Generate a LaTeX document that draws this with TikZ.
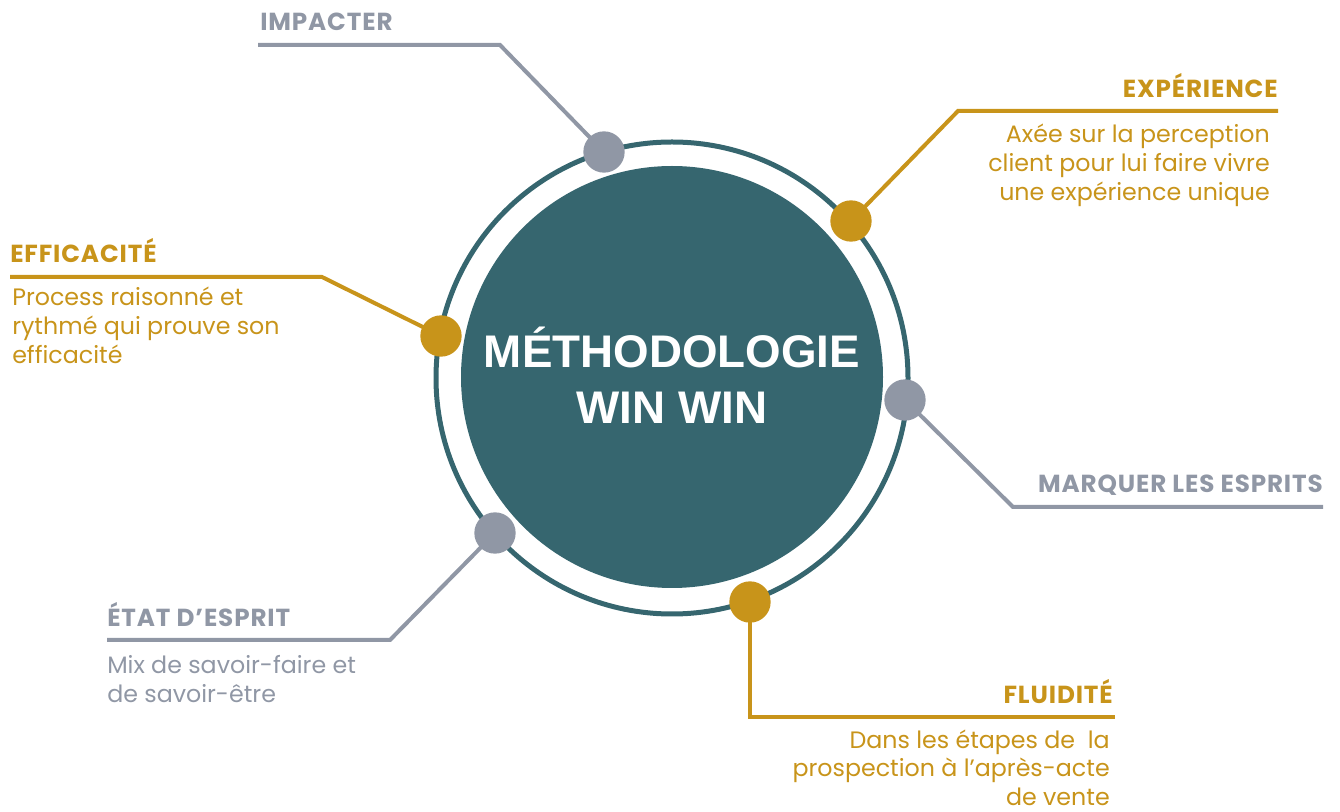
\documentclass[tikz,border=0pt]{standalone}
\usepackage{fontspec}
\setmainfont{Poppins}
\newfontfamily\hubfont{Liberation Sans}
\usepackage{tikz}
\usetikzlibrary{positioning}
\definecolor{teal}{HTML}{36666F}
\definecolor{gold}{HTML}{C8941A}
\definecolor{slate}{HTML}{9097A5}
\tikzset{
  head/.style={inner sep=0pt, font=\fontsize{18.5}{21}\selectfont\bfseries\addfontfeature{LetterSpace=3.5}},
  body/.style={inner sep=0pt, font=\fontsize{17.8}{21.75}\selectfont},
  dot/.style={circle, minimum size=31, inner sep=0pt},
  golddot/.style={dot, fill=gold},
  slatedot/.style={dot, fill=slate},
  leg/.style={line width=3pt, line join=miter}
}
\begin{document}
\begin{tikzpicture}[x=0.75pt, y=-0.75pt]
\useasboundingbox (0,0) rectangle (1340,812);

\draw [teal, line width=3.75pt] (672,378) circle [radius=236];
\node [circle, fill=teal, minimum size=316.5pt, inner sep=0pt] (hub) at (672,377) {};
\node [align=center, inner sep=0pt, text=white, font=\hubfont\fontsize{34.3}{42}\selectfont\bfseries, anchor=base] (hubtxt) at (672,424) {MÉTHODOLOGIE\\WIN WIN};

\coordinate (kImp) at (500,45);   \coordinate (eImp) at (258,45);
\coordinate (kExp) at (958,111);  \coordinate (eExp) at (1278,111);
\coordinate (kEff) at (322,277);  \coordinate (eEff) at (10,277);
\coordinate (kMar) at (1013,507); \coordinate (eMar) at (1323,507);
\coordinate (kEta) at (390,640);  \coordinate (eEta) at (107,640);
\coordinate (kFlu) at (750,717);  \coordinate (eFlu) at (1115,717);

\node [slatedot] (dImp) at (604,152) {};
\node [golddot]  (dExp) at (851,221) {};
\node [golddot]  (dEff) at (441,336) {};
\node [slatedot] (dMar) at (905,400) {};
\node [slatedot] (dEta) at (495,533) {};
\node [golddot]  (dFlu) at (750,602) {};

\foreach \s/\k/\t in {dExp/kExp/eExp,
                      dEff/kEff/eEff,
                      dFlu/kFlu/eFlu}
    \draw [leg, gold] (\s.center) -- (\k) -- (\t);

\foreach \s/\k/\t in {dImp/kImp/eImp,
                      dMar/kMar/eMar,
                      dEta/kEta/eEta}
    \draw [leg, slate] (\s.center) -- (\k) -- (\t);

% redraw the dots above their legs
\foreach \d/\c in {dImp/slate, dExp/gold, dEff/gold, dMar/slate, dEta/slate, dFlu/gold}
    \fill [\c] (\d) circle [radius=15.5];

\node [head, text=slate, anchor=base west] (tImp) at (260,31) {IMPACTER};

\node [head, text=gold, anchor=base east] (tExp) at (1278,98) {EXPÉRIENCE};
\node [body, text=gold, align=right, anchor=base east] (bExp) at (1270,201)
  {Axée sur la perception\\client pour lui faire vivre\\une expérience unique};

\node [head, text=gold, anchor=base west] (tEff) at (10,263) {EFFICACITÉ};
\node [body, text=gold, align=left, anchor=base west] (bEff) at (12,364)
  {Process raisonné et\\rythmé qui prouve son\\efficacité};

\node [head, text=slate, anchor=base east] (tMar) at (1323,493) {MARQUER LES ESPRITS};

\node [head, text=slate, anchor=base west] (tEta) at (107,627) {ÉTAT D’ESPRIT};
\node [body, text=slate, align=left, anchor=base west] (bEta) at (107,703)
  {Mix de savoir-faire et\\de savoir-être};

\node [head, text=gold, anchor=base east] (tFlu) at (1113,704) {FLUIDITÉ};
\node [body, text=gold, align=right, anchor=base east] (bFlu) at (1110,806)
  {Dans les étapes de~~la\\prospection à l’après-acte\\de vente};
\end{tikzpicture}
\end{document}
